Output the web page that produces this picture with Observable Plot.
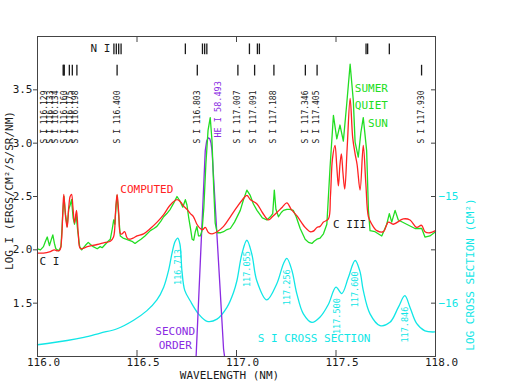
<!DOCTYPE html>
<html><head><meta charset="utf-8">
<script src="https://cdn.jsdelivr.net/npm/d3@7"></script>
<script src="https://cdn.jsdelivr.net/npm/@observablehq/plot@0.6"></script>
<style>html,body{margin:0;padding:0;background:#fff}svg{display:block}</style>
</head><body><div id="chart"></div>
<script>
// Observed SUMER quiet-sun spectrum (log I)
const obsWl = [116.000,116.015,116.030,116.040,116.049,116.060,116.070,116.077,116.085,116.092,116.107,116.118,116.126,116.133,116.141,116.149,116.157,116.164,116.171,116.179,116.186,116.194,116.202,116.212,116.222,116.240,116.255,116.266,116.280,116.300,116.315,116.325,116.340,116.355,116.366,116.376,116.383,116.389,116.395,116.400,116.408,116.416,116.430,116.445,116.458,116.475,116.490,116.505,116.520,116.540,116.567,116.585,116.600,116.620,116.634,116.650,116.667,116.685,116.701,116.715,116.730,116.743,116.751,116.760,116.768,116.777,116.785,116.793,116.801,116.809,116.818,116.827,116.836,116.846,116.857,116.868,116.877,116.885,116.893,116.903,116.918,116.935,116.952,116.969,116.990,117.019,117.035,117.052,117.069,117.085,117.103,117.130,117.153,117.170,117.182,117.190,117.198,117.211,117.225,117.236,117.253,117.269,117.285,117.300,117.320,117.345,117.362,117.379,117.390,117.404,117.420,117.437,117.454,117.470,117.487,117.504,117.520,117.537,117.554,117.571,117.587,117.596,117.612,117.625,117.637,117.654,117.663,117.671,117.696,117.730,117.755,117.768,117.780,117.797,117.813,117.855,117.897,117.931,117.947,117.972,118.000];
const obsLogI = [2.01,2.00,2.03,2.08,2.12,2.04,2.10,2.14,2.06,2.01,1.99,2.03,2.30,2.50,2.33,2.22,2.38,2.42,2.47,2.30,2.24,2.33,2.18,2.03,2.00,2.04,2.07,2.05,2.03,2.01,2.03,2.02,2.05,2.08,2.10,2.20,2.28,2.24,2.42,2.51,2.32,2.13,2.11,2.10,2.09,2.08,2.06,2.08,2.10,2.13,2.18,2.20,2.22,2.27,2.31,2.34,2.38,2.44,2.50,2.46,2.40,2.47,2.42,2.30,2.21,2.10,2.09,2.17,2.22,2.13,2.13,2.18,2.40,2.80,3.12,3.24,3.02,2.60,2.25,2.16,2.16,2.17,2.19,2.20,2.26,2.37,2.47,2.56,2.51,2.43,2.37,2.30,2.28,2.31,2.34,2.56,2.38,2.31,2.35,2.37,2.38,2.38,2.37,2.31,2.20,2.10,2.07,2.06,2.08,2.10,2.11,2.15,2.24,2.77,3.26,3.04,3.17,3.02,3.37,3.74,3.40,3.01,2.87,3.10,3.24,2.93,2.37,2.18,2.17,2.13,2.24,2.34,2.26,2.37,2.28,2.24,2.20,2.20,2.12,2.13,2.17];

// Computed spectrum (log I)
const compWl = [116.000,116.030,116.060,116.085,116.100,116.113,116.121,116.127,116.132,116.140,116.149,116.157,116.164,116.171,116.178,116.186,116.196,116.205,116.216,116.250,116.300,116.340,116.366,116.382,116.392,116.400,116.408,116.417,116.425,116.438,116.448,116.458,116.480,116.500,116.533,116.567,116.601,116.634,116.667,116.701,116.718,116.735,116.751,116.768,116.784,116.801,116.818,116.830,116.843,116.860,116.877,116.893,116.903,116.935,116.969,117.002,117.030,117.052,117.070,117.103,117.130,117.161,117.180,117.203,117.230,117.253,117.275,117.303,117.345,117.370,117.379,117.390,117.404,117.420,117.437,117.462,117.472,117.482,117.495,117.504,117.512,117.520,117.527,117.535,117.544,117.556,117.571,117.584,117.596,117.606,117.621,117.637,117.650,117.663,117.680,117.705,117.738,117.763,117.788,117.838,117.872,117.905,117.930,117.947,117.972,118.000];
const compLogI = [1.97,1.97,1.98,2.00,1.99,2.00,2.10,2.35,2.52,2.33,2.21,2.40,2.50,2.52,2.40,2.25,2.37,2.15,2.01,2.03,2.05,2.07,2.08,2.12,2.35,2.52,2.35,2.15,2.15,2.17,2.12,2.10,2.11,2.13,2.15,2.20,2.26,2.33,2.42,2.47,2.45,2.41,2.38,2.34,2.31,2.24,2.20,2.19,2.21,2.16,2.15,2.16,2.17,2.22,2.31,2.40,2.47,2.51,2.47,2.43,2.35,2.28,2.31,2.35,2.40,2.44,2.38,2.32,2.21,2.17,2.17,2.18,2.21,2.22,2.26,2.29,2.50,2.85,2.98,2.78,2.60,2.80,2.90,2.72,2.57,2.95,3.42,3.05,2.90,2.80,2.56,2.98,2.62,2.31,2.24,2.18,2.17,2.26,2.24,2.29,2.28,2.21,2.23,2.17,2.16,2.18];

// S I photoionisation cross section (log, cm^2)
const crossWl = [116.000,116.149,116.233,116.316,116.400,116.483,116.550,116.600,116.634,116.659,116.676,116.692,116.705,116.716,116.726,116.740,116.768,116.809,116.852,116.902,116.952,116.985,117.002,117.027,117.052,117.077,117.102,117.152,117.202,117.236,117.253,117.278,117.303,117.336,117.379,117.420,117.462,117.500,117.529,117.562,117.596,117.620,117.637,117.671,117.721,117.771,117.813,117.846,117.872,117.905,117.947,117.997];
const crossLog = [-16.39,-16.35,-16.32,-16.28,-16.24,-16.16,-16.07,-15.97,-15.85,-15.69,-15.53,-15.42,-15.39,-15.45,-15.70,-15.88,-15.98,-16.10,-16.17,-16.15,-16.04,-15.90,-15.79,-15.54,-15.41,-15.54,-15.79,-15.97,-15.82,-15.63,-15.58,-15.69,-15.91,-16.10,-16.18,-16.13,-16.01,-15.85,-15.91,-15.76,-15.60,-15.70,-15.88,-16.10,-16.21,-16.18,-16.04,-15.93,-16.04,-16.19,-16.26,-16.27];

// He I 58.4 nm in second order
const heWl = [116.797,116.818,116.833,116.843,116.850,116.858,116.866,116.872,116.877,116.888,116.903,116.918,116.935,116.940];
const heLogI = [1.00,1.88,2.51,2.93,3.02,3.05,3.04,3.00,2.93,2.58,2.10,1.62,1.07,1.00];

// S I line identifications
const sLines = [116.129,116.133,116.134,116.160,116.175,116.198,116.400,116.803,117.007,117.091,117.188,117.346,117.405,117.930];
const sLabels = ["S I 116.129","S I 116.133","S I 116.134","S I 116.160","S I 116.175","S I 116.198","S I 116.400","S I 116.803","S I 117.007","S I 117.091","S I 117.188","S I 117.346","S I 117.405","S I 117.930"];
const sLabelAt = [116.034,116.064,116.092,116.134,116.164,116.192,116.400,116.803,117.005,117.086,117.188,117.344,117.403,117.930];
// other line markers (top row, N I etc.)
const topLines = [116.384,116.396,116.408,116.420,116.743,116.829,116.840,116.851,117.065,117.105,117.115,117.651,117.659,117.768];

// cross-section peak labels
const peakWl = [116.708,117.052,117.253,117.504,117.596,117.847];
const peakLog = [-15.39,-15.41,-15.58,-15.85,-15.60,-15.93];
const peakLabels = ["116.713","117.055","117.256","117.500","117.600","117.846"];

const xTicks = [116.0,116.5,117.0,117.5,118.0];
const yTicks = [1.5,2.0,2.5,3.0,3.5];
const crossTicks = [-16,-15.5,-15,-14.5,-14];
const crossTickLabels = [-16,-15];
const OFF = 17.5; // right axis: log sigma = log I - 17.5

const GREEN = "#22dd22", RED = "#ff2222", CYAN = "#11e6e6", PURPLE = "#8a2be2", INK = "#1a1a1a", AX = "#444";

const obs = obsWl.map((w,i)=>({w, v: obsLogI[i]}));
const comp = compWl.map((w,i)=>({w, v: compLogI[i]}));
const cross = crossWl.map((w,i)=>({w, v: crossLog[i] + OFF}));
const he = heWl.map((w,i)=>({w, v: heLogI[i]}));
const peaks = peakWl.map((w,i)=>({w, v: peakLog[i] + OFF, t: peakLabels[i]}));
const sl = sLines.map((w,i)=>({w, at: sLabelAt[i], t: sLabels[i]}));

const chart = Plot.plot({
  width: 509, height: 382,
  marginLeft: 37, marginRight: 74, marginTop: 36, marginBottom: 26,
  style: {fontFamily: "'DejaVu Sans Mono', monospace", fontSize: "11px", background: "#fff", color: INK},
  x: {domain: [116, 118]},
  y: {domain: [1, 4]},
  marks: [
    Plot.line(cross, {x: "w", y: "v", stroke: CYAN, strokeWidth: 1.3, curve: "catmull-rom"}),
    Plot.line(he, {x: "w", y: "v", stroke: PURPLE, strokeWidth: 1.3, clip: true}),
    Plot.line(obs, {x: "w", y: "v", stroke: GREEN, strokeWidth: 1.3}),
    Plot.line(comp, {x: "w", y: "v", stroke: RED, strokeWidth: 1.3, curve: "catmull-rom"}),
    Plot.frame({stroke: AX}),
    Plot.axisY(yTicks, {anchor: "left", tickSize: 4, tickPadding: 1, tickFormat: d => d.toFixed(1), label: null, stroke: AX}),
    Plot.axisX(xTicks, {anchor: "bottom", tickSize: 0, tickPadding: 2, dx: 6, tickFormat: d => d.toFixed(1), label: null}),
    Plot.tickX(xTicks, {x: d => d, insetTop: 314, stroke: AX}),
    Plot.tickX(xTicks, {x: d => d, insetBottom: 314, stroke: AX}),
    Plot.tickY(crossTicks, {y: d => d + OFF, insetLeft: 394, stroke: AX}),
    Plot.text(crossTickLabels, {y: d => d + OFF, frameAnchor: "right", textAnchor: "start", dx: 3, text: d => "\u2212" + Math.abs(d), fill: CYAN}),
    Plot.text(["LOG I (ERGS/CM\u00b2/S/SR/NM)"], {frameAnchor: "left", textAnchor: "middle", rotate: -90, dx: -28, dy: -6}),
    Plot.text(["LOG CROSS SECTION (CM\u00b2)"], {frameAnchor: "right", textAnchor: "middle", rotate: -90, dx: 35, dy: 78, fill: CYAN}),
    Plot.text(["WAVELENGTH (NM)"], {frameAnchor: "bottom", textAnchor: "middle", dy: 22, dx: -7}),
    // line markers
    Plot.ruleX(topLines, {x: d => d, y1: 3.83, y2: 3.93, stroke: INK, strokeWidth: 1.3}),
    Plot.ruleX(sLines, {x: d => d, y1: 3.63, y2: 3.73, stroke: INK, strokeWidth: 1.3}),
    Plot.text(sl, {x: "at", y: 2.997, text: "t", rotate: -90, textAnchor: "start", fontSize: 8}),
    Plot.text(["N I"], {x: 116.366, y: 3.888, textAnchor: "end"}),
    Plot.text(["HE I 58.493"], {x: 116.908, y: 3.053, rotate: -90, textAnchor: "start", fontSize: 8.5, fill: PURPLE}),
    Plot.text(peaks, {x: "w", y: "v", text: "t", rotate: -90, textAnchor: "end", dy: 11, fontSize: 8.5, fill: CYAN}),
    // annotations
    Plot.text(["COMPUTED"], {x: 116.416, y: 2.566, textAnchor: "start", fill: RED}),
    Plot.text(["C I"], {x: 116.010, y: 1.891, textAnchor: "start"}),
    Plot.text(["C III"], {x: 117.485, y: 2.238, textAnchor: "start"}),
    Plot.text(["SUMER\nQUIET\nSUN"], {x: 117.761, y: 3.369, textAnchor: "end", lineHeight: 1.6, fill: GREEN}),
    Plot.text(["SECOND\nORDER"], {x: 116.692, y: 1.176, lineHeight: 1.25, fill: PURPLE}),
    Plot.text(["S I CROSS SECTION"], {x: 117.390, y: 1.169, fill: CYAN})
  ]
});
document.getElementById("chart").appendChild(chart);
</script>
</body></html>
